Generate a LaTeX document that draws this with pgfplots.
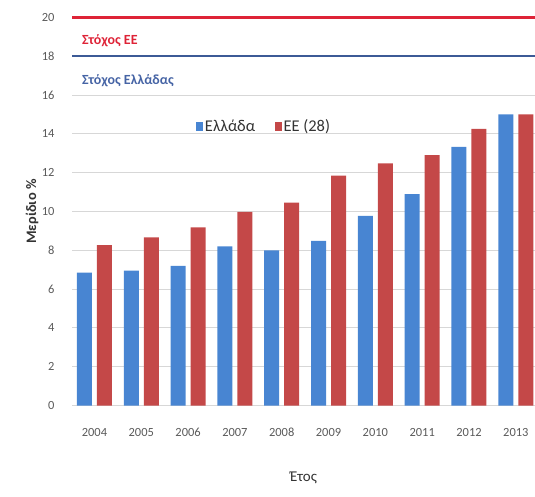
\documentclass[border=0pt]{standalone}
\usepackage{pgfplots}
\pgfplotsset{compat=1.18}
\usepackage{fontspec}
\setmainfont{Carlito}
\definecolor{barblue}{RGB}{72,133,210}
\definecolor{barred}{RGB}{196,72,72}
\definecolor{tgtred}{RGB}{222,35,55}
\definecolor{tgtblue}{RGB}{60,90,150}
\definecolor{txtblue}{RGB}{70,100,165}
\definecolor{gridgrey}{RGB}{215,215,215}
\definecolor{ticktext}{RGB}{90,90,90}
\begin{document}
\begin{tikzpicture}
\useasboundingbox (-72bp,-91.5bp) rectangle (463bp,405.5bp);
\begin{axis}[
  at={(0,0)}, anchor=south west,
  scale only axis, width=463bp, height=388bp,
  xmin=-0.48, xmax=9.41, ymin=0, ymax=20,
  ybar, bar width=15bp,
  xtick={0,...,9},
  xticklabels={2004,2005,2006,2007,2008,2009,2010,2011,2012,2013},
  ytick={0,2,...,20},
  ymajorgrids, grid style={gridgrey, line width=1.1pt},
  axis line style={draw=none},
  major tick length=0,
  /pgf/number format/assume math mode=true,
  ticklabel style={font=\fontsize{12.5}{14}\selectfont, text=ticktext},
  yticklabel style={xshift=-14bp},
  xticklabel style={yshift=-19bp},
  ylabel={\textbf{Μερίδιο \%}},
  ylabel style={at={(axis description cs:-0.0864,0.5)}, anchor=center, font=\fontsize{14.5}{16}\selectfont, text=black!80},
  xlabel={Έτος},
  xlabel style={at={(axis description cs:0.5,0)}, yshift=-72bp, anchor=center, font=\fontsize{15}{17}\selectfont, text=black!80},
  legend columns=2,
  legend style={draw=none, fill=none, at={(rel axis cs:0.262,0.72)}, anchor=west,
    font=\fontsize{16.5}{18}\selectfont, text=black!80,
    /tikz/every even column/.append style={column sep=18bp}},
  legend image code/.code={\fill[#1] (0bp,-4.5bp) rectangle (6.5bp,4.5bp);},
  clip=false,
]
\addplot[fill=barblue, draw=none, bar shift=-10bp] coordinates {
(0,6.85) (1,6.95) (2,7.2) (3,8.2) (4,8.0) (5,8.48) (6,9.78) (7,10.9) (8,13.33) (9,15.0)};
\addlegendentry{Ελλάδα}
\addplot[fill=barred, draw=none, bar shift=10bp] coordinates {
(0,8.27) (1,8.67) (2,9.18) (3,9.98) (4,10.46) (5,11.85) (6,12.48) (7,12.9) (8,14.26) (9,15.0)};
\addlegendentry{ΕΕ (28)}
\addplot[sharp plot, tgtred, line width=2.4pt, forget plot] coordinates {(-0.48,20) (9.41,20)};
\addplot[sharp plot, tgtblue, line width=2.4pt, forget plot] coordinates {(-0.48,18) (9.41,18)};
\node[anchor=west, text=tgtred, font=\bfseries\fontsize{14}{16}\selectfont] at (axis cs:-0.34,18.8) {Στόχος ΕΕ};
\node[anchor=west, text=txtblue, font=\bfseries\fontsize{14}{16}\selectfont] at (axis cs:-0.34,16.75) {Στόχος Ελλάδας};
\end{axis}
\end{tikzpicture}
\end{document}
